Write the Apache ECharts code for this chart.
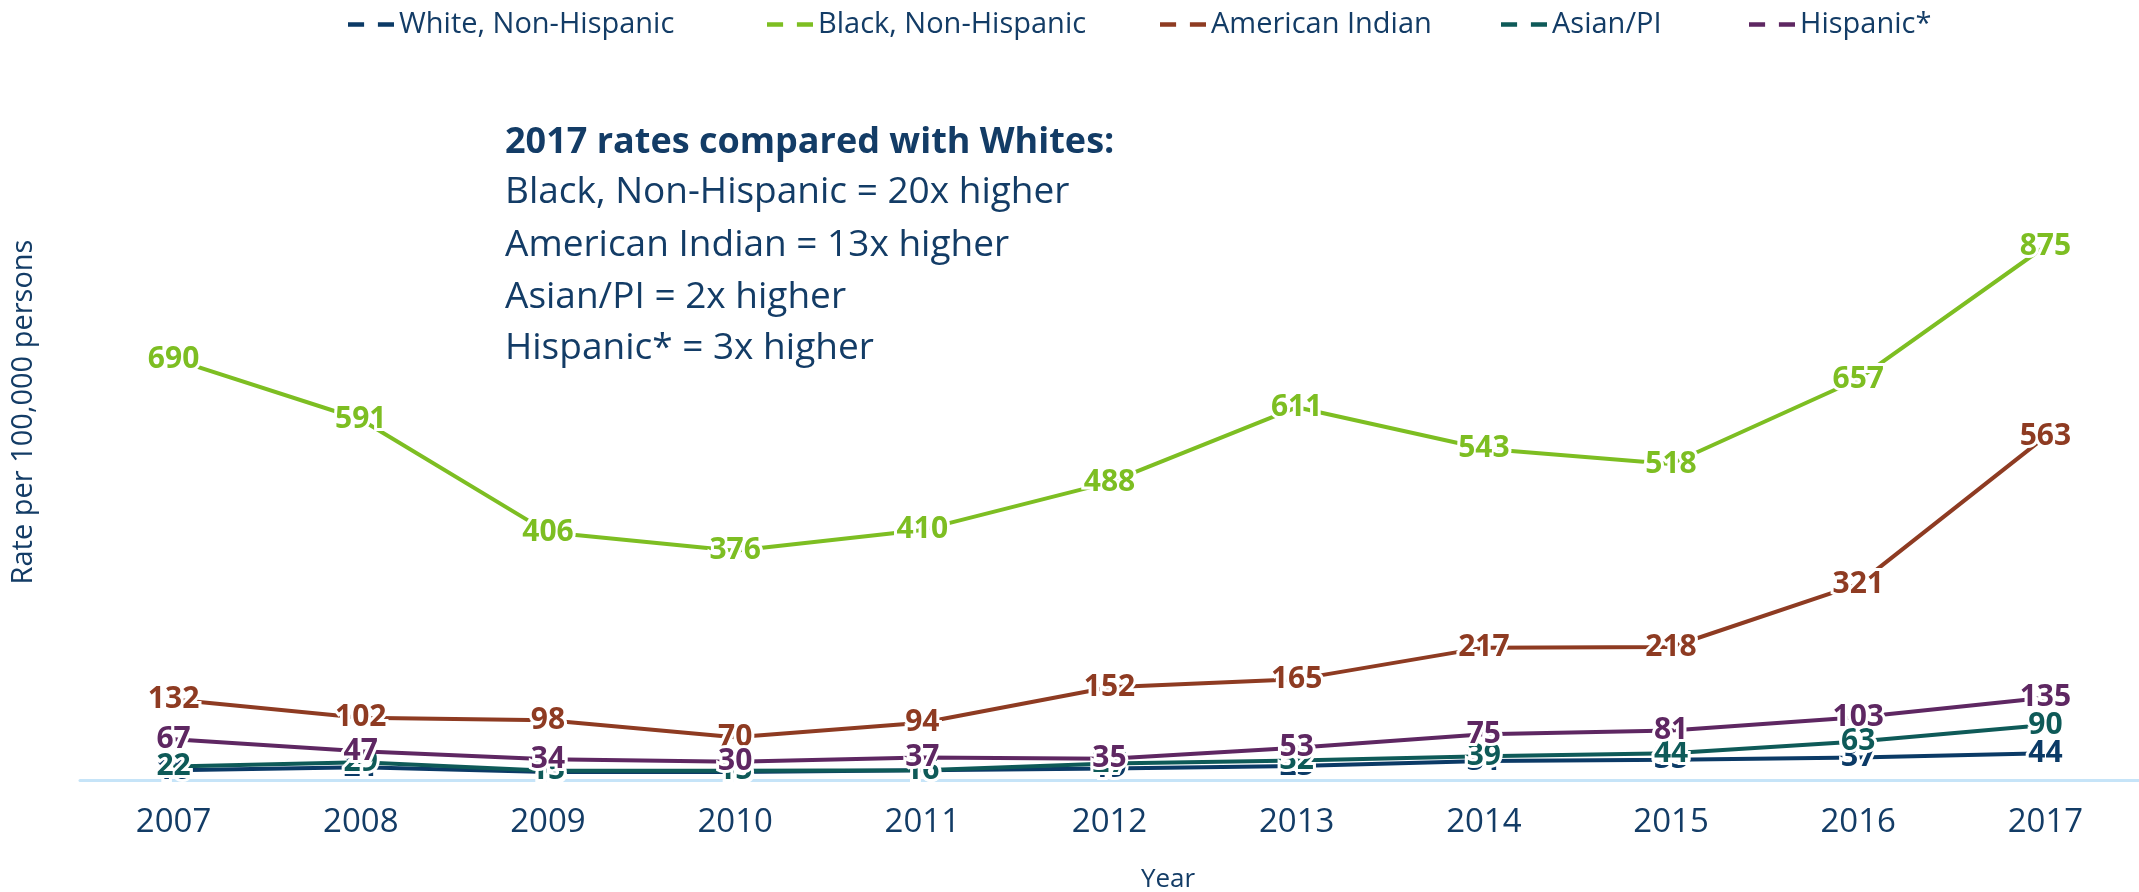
<!DOCTYPE html>
<html>
<head>
<meta charset="utf-8">
<script src="https://cdn.jsdelivr.net/npm/echarts@6/dist/echarts.min.js"></script>
<style>
html,body{margin:0;padding:0;background:#fff;}
#chart{width:2139px;height:892px;}
</style>
</head>
<body>
<div id="chart"></div>
<script>
const years = ['2007','2008','2009','2010','2011','2012','2013','2014','2015','2016','2017'];
const seriesNames = ['White, Non-Hispanic','Black, Non-Hispanic','American Indian','Asian/PI','Hispanic*'];
const white = [16, 21, 13, 13, 16, 19, 23, 31, 33, 37, 44];
const black = [690, 591, 406, 376, 410, 488, 611, 543, 518, 657, 875];
const amIndian = [132, 102, 98, 70, 94, 152, 165, 217, 218, 321, 563];
const asian = [22, 29, 15, 15, 16, 27, 32, 39, 44, 63, 90];
const hispanic = [67, 47, 34, 30, 37, 35, 53, 75, 81, 103, 135];
const noteLines = [
  '2017 rates compared with Whites:',
  'Black, Non-Hispanic = 20x higher',
  'American Indian = 13x higher',
  'Asian/PI = 2x higher',
  'Hispanic* = 3x higher'
];

const colors = ['#0B3A66', '#7DBE22', '#8E3B22', '#0E5A58', '#5E2762'];
const dataSets = [white, black, amIndian, asian, hispanic];
const textColor = '#133C66';
const FONT = 'Open Sans';

const chart = echarts.init(document.getElementById('chart'), null, {renderer:'canvas'});

const legendLefts = [343, 762, 1155, 1496, 1744];
const legends = seriesNames.map((n, i) => ({
  data: [{name: n, icon: 'path://M0,0H14V4H0Z M26,0H40V4H26Z'}],
  left: legendLefts[i],
  top: 5,
  itemWidth: 46,
  itemHeight: 5,
  itemGap: 6,
  textStyle: {color: textColor, fontSize: 29, fontFamily: FONT},
  selectedMode: false
}));

const series = seriesNames.map((n, i) => ({
  name: n,
  type: 'line',
  data: dataSets[i],
  symbol: 'circle',
  symbolSize: 1,
  itemStyle: {color: colors[i]},
  lineStyle: {color: colors[i], width: 4},
  label: {
    show: true,
    position: 'inside',
    color: colors[i],
    fontSize: 30,
    fontWeight: 'bold',
    fontFamily: FONT,
    textBorderColor: '#ffffff',
    textBorderWidth: 6
  },
  emphasis: {disabled: true},
  animation: false,
  z: 2 + i
}));

const noteY = [143, 192, 245, 297, 348];
const graphics = noteLines.map((t, i) => ({
  type: 'text',
  x: 505,
  y: noteY[i],
  style: {
    text: t,
    fill: textColor,
    fontSize: i === 0 ? 36 : 37,
    fontWeight: i === 0 ? 'bold' : 'normal',
    fontFamily: FONT,
    align: 'left',
    verticalAlign: 'middle'
  }
}));
graphics.push({
  type: 'text',
  x: 24, y: 412,
  rotation: Math.PI / 2,
  style: {
    text: 'Rate per 100,000 persons',
    fill: textColor,
    fontSize: 29,
    fontFamily: FONT,
    align: 'center',
    verticalAlign: 'middle'
  }
});
graphics.push({
  type: 'text',
  x: 1168, y: 880,
  style: {
    text: 'Year',
    fill: textColor,
    fontSize: 26,
    fontFamily: FONT,
    align: 'center',
    verticalAlign: 'middle'
  }
});

chart.setOption({
  backgroundColor: '#ffffff',
  animation: false,
  legend: legends,
  grid: {left: 80, top: 170, width: 2101, height: 610, containLabel: false},
  xAxis: {
    type: 'category',
    data: years,
    boundaryGap: true,
    axisLine: {show: true, lineStyle: {color: '#C6E4F8', width: 3}},
    axisTick: {show: false},
    axisLabel: {color: textColor, fontSize: 33, fontFamily: FONT, margin: 26},
    splitLine: {show: false}
  },
  yAxis: {
    type: 'value',
    min: 0, max: 1000,
    show: false,
    splitLine: {show: false}
  },
  series: series,
  graphic: graphics
});
</script>
</body>
</html>
